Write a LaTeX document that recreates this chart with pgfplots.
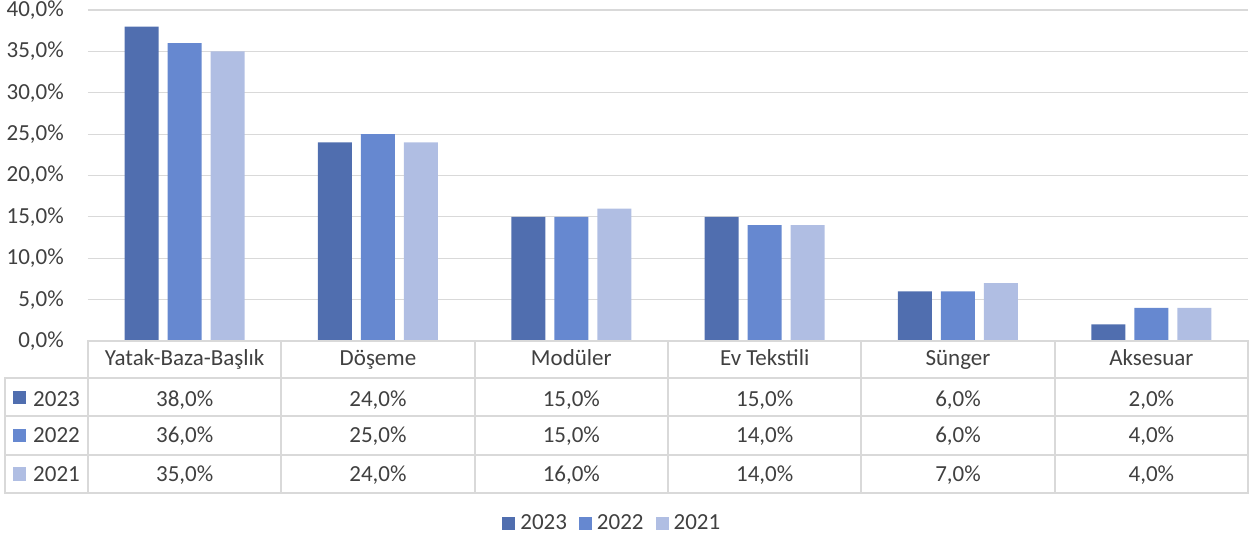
\documentclass[border=0pt]{standalone}
\usepackage{fontspec}
\setmainfont{Carlito}
\usepackage{pgfplots}
\pgfplotsset{compat=1.18}
\definecolor{cA}{HTML}{506EAF}
\definecolor{cB}{HTML}{6688D0}
\definecolor{cC}{HTML}{B0BEE3}
\definecolor{gridc}{HTML}{D9D9D9}
\definecolor{txt}{HTML}{404040}
\newcommand{\fs}{\fontsize{23}{27}\selectfont}
\begin{document}
\begin{tikzpicture}
\path[use as bounding box] (-88pt,-201pt) rectangle (1162pt,341pt);
\begin{axis}[
 at={(0pt,0pt)}, anchor=south west,
 scale only axis, width=1160pt, height=331pt,
 xmin=-0.5, xmax=5.5, ymin=0, ymax=40,
 ybar=9pt, bar width=34pt,
 xtick=\empty,
 ytick={0,5,...,40},
 ymajorgrids, grid style={gridc, line width=1.2pt},
 axis line style={draw=none},
 major tick length=0pt,
 /pgf/number format/assume math mode=true,
 yticklabel={\pgfmathprintnumber[fixed,fixed zerofill,precision=1,use comma,assume math mode=true]{\tick}\%},
 yticklabel style={inner sep=0pt, xshift=-24pt, font=\fs, text=txt},
 clip=false,
 legend columns=3,
 legend style={at={(0.452,-0.55)}, anchor=center, draw=none, font=\fs, text=txt,
   /tikz/every odd column/.append style={column sep=3pt},
   /tikz/every even column/.append style={column sep=10pt}},
 legend image code/.code={\fill[#1] (0pt,-6.5pt) rectangle (13pt,6.5pt);},
]
\addplot[fill=cA, draw=none] coordinates {(0,38) (1,24) (2,15) (3,15) (4,6) (5,2)};
\addplot[fill=cB, draw=none] coordinates {(0,36) (1,25) (2,15) (3,14) (4,6) (5,4)};
\addplot[fill=cC, draw=none] coordinates {(0,35) (1,24) (2,16) (3,14) (4,7) (5,4)};
\legend{2023,2022,2021}
\end{axis}
\begin{scope}[draw=gridc, line width=2pt]
\draw (0pt,0pt) -- (1160pt,0pt);
\foreach \yy in {-37,-75,-114,-152} \draw (-83pt,\yy pt) -- (1160pt,\yy pt);
\foreach \i in {0,...,6} \draw ({\i*193.333pt},1pt) -- ({\i*193.333pt},-153pt);
\draw (-83pt,-36pt) -- (-83pt,-153pt);
\end{scope}
\begin{scope}[every node/.style={font=\fs, text=txt, anchor=base, inner sep=0pt}]
\foreach \n [count=\i from 0] in {Yatak-Baza-Başlık, Döşeme, Modüler, Ev Tekstili, Sünger, Aksesuar}
  \node at ({(\i+0.5)*193.333pt},-24.5pt) {\n};
\foreach \v [count=\i from 0] in {38,24,15,15,6,2}
  \node at ({(\i+0.5)*193.333pt},-65pt) {\v,0\%};
\foreach \v [count=\i from 0] in {36,25,15,14,6,4}
  \node at ({(\i+0.5)*193.333pt},-101.5pt) {\v,0\%};
\foreach \v [count=\i from 0] in {35,24,16,14,7,4}
  \node at ({(\i+0.5)*193.333pt},-140pt) {\v,0\%};
\fill[cA] (-75pt,-63pt) rectangle ++(13.5pt,13.5pt);
\fill[cB] (-75pt,-101pt) rectangle ++(13.5pt,13.5pt);
\fill[cC] (-75pt,-139.5pt) rectangle ++(13.5pt,13.5pt);
\node[anchor=base west] at (-55pt,-65pt) {2023};
\node[anchor=base west] at (-55pt,-101.5pt) {2022};
\node[anchor=base west] at (-55pt,-140pt) {2021};
\end{scope}
\end{tikzpicture}
\end{document}
